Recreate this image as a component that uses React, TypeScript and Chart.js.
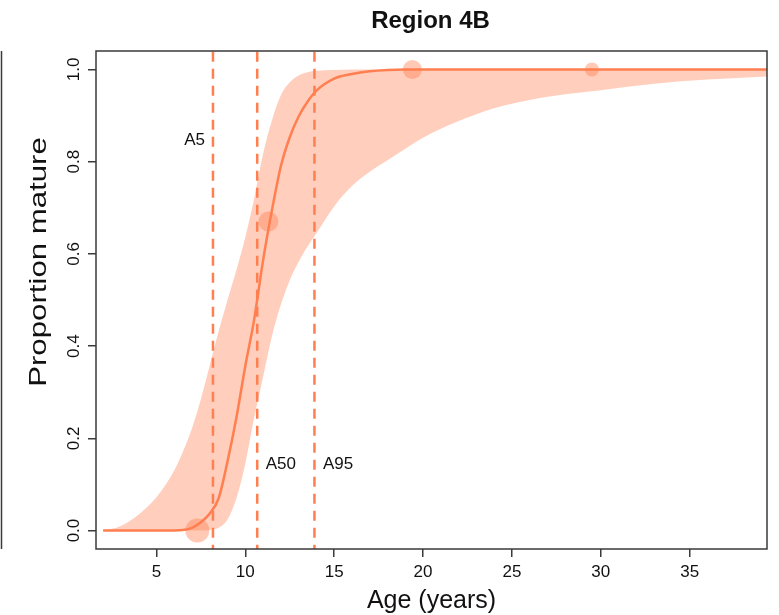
import React, { useEffect, useRef } from 'react';
import { Chart, registerables } from 'chart.js';

Chart.register(...registerables);

// ---- Data ----
const ages = [2, 3, 4, 5, 6, 6.5, 7, 7.5, 8, 8.5, 9, 9.5, 10, 10.5, 11, 11.5, 12, 12.5, 13, 13.5, 14, 15, 16, 17, 18, 19, 20, 22, 24, 26, 28, 30, 33, 36, 39.4];
const fittedProportion = [0, 0, 0, 0, 0, 0.001, 0.006, 0.018, 0.037, 0.07, 0.15, 0.245, 0.357, 0.458, 0.586, 0.695, 0.79, 0.853, 0.898, 0.93, 0.954, 0.98, 0.99, 0.996, 0.999, 1, 1, 1, 1, 1, 1, 1, 1, 1, 1];
const upperBound = [0, 0.01, 0.035, 0.072, 0.13, 0.172, 0.222, 0.285, 0.358, 0.432, 0.5, 0.565, 0.636, 0.72, 0.817, 0.89, 0.944, 0.972, 0.987, 0.994, 0.997, 0.999, 1, 1, 1, 1, 1, 1, 1, 1, 1, 1, 1, 1, 1];
const lowerBound = [0, 0, 0, 0, 0, 0, 0, 0, 0.001, 0.006, 0.024, 0.07, 0.145, 0.245, 0.333, 0.422, 0.49, 0.543, 0.583, 0.616, 0.645, 0.703, 0.747, 0.778, 0.803, 0.828, 0.852, 0.888, 0.916, 0.934, 0.946, 0.955, 0.969, 0.978, 0.985];

const observedAges = [7.3, 11.3, 19.4, 29.5];
const observedProportion = [0, 0.67, 1, 1];

const maturityAges = [8.18, 10.67, 13.89];
const maturityLabels = ['A5', 'A50', 'A95'];

const xTickValues = [5, 10, 15, 20, 25, 30, 35];
const yTickValues = [0, 0.2, 0.4, 0.6, 0.8, 1.0];

const titleText = 'Region 4B';
const xTitle = 'Age (years)';
const yTitle = 'Proportion mature';

// ---- Styles ----
const FONT = '"Liberation Sans", Arial, Helvetica, sans-serif';
const CORAL = '#FF7F50';
const BAND = 'rgba(255,127,80,0.38)';
const POINT = 'rgba(255,127,80,0.42)';
const FRAME = '#3a3a3a';
const TEXT = '#111111';

const decorPlugin = {
  id: 'decor',
  afterDraw(chart: any) {
    const { ctx, chartArea: ca, scales } = chart;
    const xs = scales.x;
    const ys = scales.y;
    ctx.save();

    // frame box
    ctx.strokeStyle = FRAME;
    ctx.lineWidth = 1.5;
    ctx.setLineDash([]);
    ctx.strokeRect(ca.left, ca.top, ca.right - ca.left, ca.bottom - ca.top);

    // neighbouring panel edge at the far left
    ctx.beginPath();
    ctx.moveTo(1.5, ca.top);
    ctx.lineTo(1.5, ca.bottom);
    ctx.stroke();

    // y tick labels (rotated, as in R)
    ctx.fillStyle = TEXT;
    ctx.font = `17px ${FONT}`;
    ys.ticks.forEach((t: any) => {
      const py = ys.getPixelForValue(t.value);
      ctx.save();
      ctx.translate(79, py);
      ctx.rotate(-Math.PI / 2);
      ctx.textAlign = 'center';
      ctx.textBaseline = 'alphabetic';
      ctx.fillText(Number(t.value).toFixed(1), 0, 0);
      ctx.restore();
    });

    // y axis title
    ctx.save();
    ctx.font = `24px ${FONT}`;
    ctx.translate(45.5, 262);
    ctx.rotate(-Math.PI / 2);
    ctx.scale(1.3, 1);
    ctx.textAlign = 'center';
    ctx.textBaseline = 'alphabetic';
    ctx.fillText(yTitle, 0, 0);
    ctx.restore();

    // x axis title
    ctx.font = `25px ${FONT}`;
    ctx.textAlign = 'center';
    ctx.textBaseline = 'alphabetic';
    ctx.fillText(xTitle, (ca.left + ca.right) / 2, 608);

    // main title
    ctx.font = `bold 24px ${FONT}`;
    ctx.fillText(titleText, (ca.left + ca.right) / 2 - 1, 28);

    // maturity labels
    ctx.font = `17px ${FONT}`;
    ctx.textBaseline = 'middle';
    maturityAges.forEach((a, i) => {
      const px = xs.getPixelForValue(a);
      if (i === 0) {
        ctx.textAlign = 'right';
        ctx.fillText(maturityLabels[i], px - 8, ys.getPixelForValue(0.847));
      } else {
        ctx.textAlign = 'left';
        ctx.fillText(maturityLabels[i], px + 8.5, ys.getPixelForValue(0.143));
      }
    });

    ctx.restore();
  },
};

export default function App() {
  const ref = useRef<HTMLCanvasElement>(null);

  useEffect(() => {
    Chart.defaults.font.family = FONT;
    const pts = (xv: number[], yv: number[]) => xv.map((x, i) => ({ x, y: yv[i] }));

    const dashSets = maturityAges.map((a) => ({
      label: 'dash',
      data: [
        { x: a, y: -0.2 },
        { x: a, y: 1.2 },
      ],
      showLine: true,
      borderColor: CORAL,
      borderWidth: 2.5,
      borderDash: [10, 7],
      pointRadius: 0,
      clip: 0,
      order: 2,
    }));

    const chart = new Chart(ref.current as HTMLCanvasElement, {
      type: 'scatter',
      data: {
        datasets: [
          {
            label: 'observed',
            data: pts(observedAges, observedProportion),
            showLine: false,
            backgroundColor: POINT,
            borderColor: 'rgba(0,0,0,0)',
            borderWidth: 0,
            pointRadius: [12, 10, 9.5, 7],
            pointHoverRadius: [12, 10, 9.5, 7],
            order: 0,
          },
          {
            label: 'fitted',
            data: pts(ages, fittedProportion),
            showLine: true,
            borderColor: CORAL,
            borderWidth: 2.5,
            pointRadius: 0,
            cubicInterpolationMode: 'monotone',
            clip: 0,
            order: 1,
          },
          ...dashSets,
          {
            label: 'upper',
            data: pts(ages, upperBound),
            showLine: true,
            borderColor: 'rgba(0,0,0,0)',
            borderWidth: 1,
            backgroundColor: BAND,
            fill: '+1',
            pointRadius: 0,
            cubicInterpolationMode: 'monotone',
            clip: 0,
            order: 3,
          },
          {
            label: 'lower',
            data: pts(ages, lowerBound),
            showLine: true,
            borderColor: 'rgba(0,0,0,0)',
            borderWidth: 1,
            fill: false,
            pointRadius: 0,
            cubicInterpolationMode: 'monotone',
            clip: 0,
            order: 4,
          },
        ] as any,
      },
      options: {
        responsive: false,
        animation: false,
        devicePixelRatio: 1,
        events: [],
        layout: { padding: { top: 51, right: 11, left: 0, bottom: 0 } },
        plugins: {
          legend: { display: false },
          tooltip: { enabled: false },
          title: { display: false },
        },
        scales: {
          x: {
            type: 'linear',
            position: 'bottom',
            min: 1.6,
            max: 39.35,
            afterBuildTicks: (s: any) => {
              s.ticks = xTickValues.map((v) => ({ value: v }));
            },
            ticks: {
              font: { size: 17, family: FONT },
              color: TEXT,
              padding: 5,
              maxRotation: 0,
              autoSkip: false,
            },
            grid: {
              drawOnChartArea: false,
              drawTicks: true,
              tickLength: 8,
              color: FRAME,
              lineWidth: 1.5,
            },
            border: { display: false },
            afterFit: (s: any) => {
              s.height = 66;
            },
          },
          y: {
            type: 'linear',
            min: -0.04,
            max: 1.04,
            afterBuildTicks: (s: any) => {
              s.ticks = yTickValues.map((v) => ({ value: v }));
            },
            ticks: { display: false },
            grid: {
              drawOnChartArea: false,
              drawTicks: true,
              tickLength: 8,
              color: FRAME,
              lineWidth: 1.5,
            },
            border: { display: false },
            afterFit: (s: any) => {
              s.width = 96;
            },
          },
        },
      } as any,
      plugins: [decorPlugin],
    });
    return () => chart.destroy();
  }, []);

  return (
    <div style={{ position: 'fixed', left: 0, top: 0, width: 779, height: 615, background: '#ffffff' }}>
      <canvas ref={ref} width={779} height={615} style={{ display: 'block' }} />
    </div>
  );
}
